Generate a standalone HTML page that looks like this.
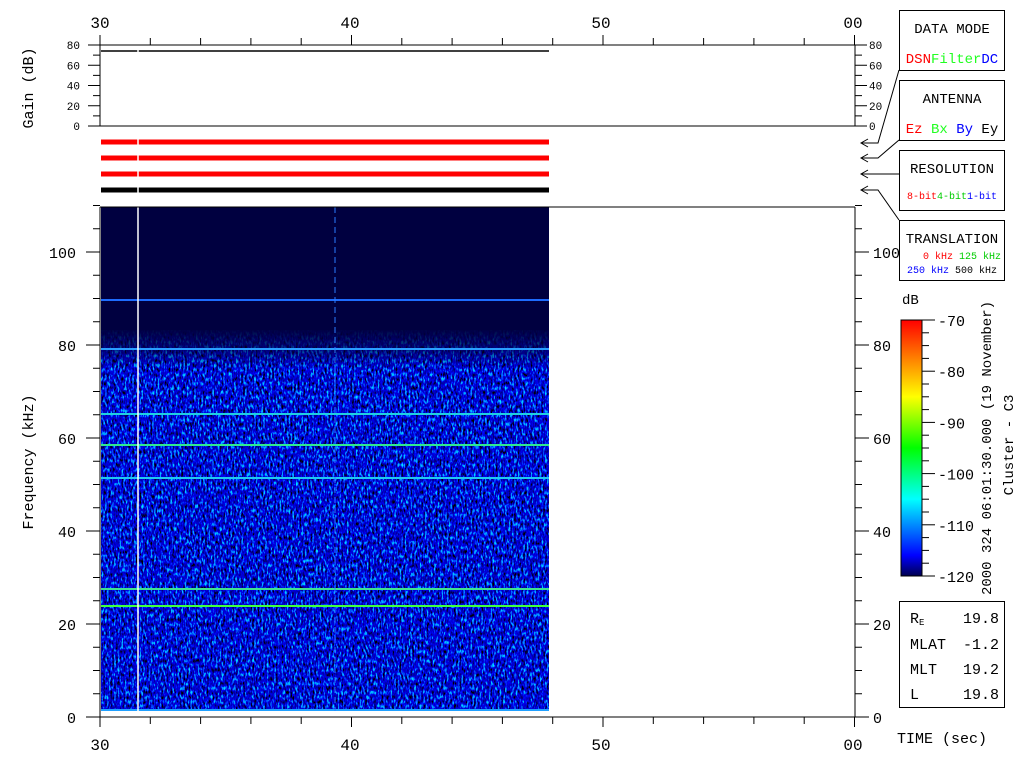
<!DOCTYPE html>
<html><head><meta charset="utf-8"><style>
html,body{margin:0;padding:0;background:#fff;width:1024px;height:768px;overflow:hidden}
svg{display:block}
text{font-family:"Liberation Mono",monospace}
</style></head><body>
<svg id="s" width="1024" height="768" viewBox="0 0 1024 768" xmlns="http://www.w3.org/2000/svg">
<defs>
<filter id="nz" x="0" y="0" width="100%" height="100%">
<feTurbulence type="fractalNoise" baseFrequency="0.55 0.22" numOctaves="2" seed="3" result="t"/>
<feColorMatrix in="t" type="matrix" values="0 0 0 0 0  3.0 0 0 0 -1.75  3.2 0 0 0 -0.9  0 0 0 0 1"/>
</filter>
<linearGradient id="cb" x1="0" y1="1" x2="0" y2="0">
<stop offset="0" stop-color="#000050"/><stop offset="0.08" stop-color="#0000ff"/>
<stop offset="0.3" stop-color="#00ffff"/><stop offset="0.5" stop-color="#00ff00"/>
<stop offset="0.7" stop-color="#ffff00"/><stop offset="0.85" stop-color="#ff8000"/>
<stop offset="1" stop-color="#ff0000"/></linearGradient>
<linearGradient id="fade" x1="0" y1="0" x2="0" y2="1">
<stop offset="0" stop-color="#000040" stop-opacity="1"/><stop offset="0.55" stop-color="#000040" stop-opacity="0.6"/><stop offset="1" stop-color="#000040" stop-opacity="0"/></linearGradient>
</defs>
<rect x="101" y="207" width="448" height="504" fill="#000040"/>
<rect x="101" y="330" width="448" height="381" fill="#000" filter="url(#nz)"/>
<rect x="101" y="328" width="448" height="40" fill="url(#fade)"/>
<g stroke-width="2">
<line x1="101" y1="300" x2="549" y2="300" stroke="#1e6cff"/>
<line x1="101" y1="349" x2="549" y2="349" stroke="#2a9cff"/>
<line x1="101" y1="414" x2="549" y2="414" stroke="#20d0e0"/>
<line x1="101" y1="445" x2="549" y2="445" stroke="#30e890"/>
<line x1="101" y1="478" x2="549" y2="478" stroke="#20c8f0"/>
<line x1="101" y1="589" x2="549" y2="589" stroke="#40e090"/>
<line x1="101" y1="606" x2="549" y2="606" stroke="#40ff40"/>
<line x1="101" y1="710" x2="549" y2="710" stroke="#20a0ff"/>
</g>
<line x1="335" y1="207" x2="335" y2="711" stroke="#2a7cff" stroke-width="1" stroke-dasharray="6,4"/>
<line x1="138" y1="207" x2="138" y2="711" stroke="#fff" stroke-width="1.5"/>
<g fill="none" stroke="#000" stroke-width="1">
<line x1="100" y1="207" x2="855" y2="207"/><line x1="100" y1="207" x2="100" y2="717"/><line x1="855" y1="207" x2="855" y2="717"/><line x1="100" y1="717" x2="855" y2="717"/>
<line x1="100" y1="45" x2="855" y2="45"/><line x1="100" y1="45" x2="100" y2="126"/><line x1="855" y1="45" x2="855" y2="126"/><line x1="100" y1="126" x2="855" y2="126"/>
</g>
<line x1="101" y1="51" x2="549" y2="51" stroke="#000" stroke-width="1.5"/>
<line x1="138" y1="48" x2="138" y2="54" stroke="#fff" stroke-width="1.5"/>
<g stroke-width="5">
<line x1="101" y1="142" x2="549" y2="142" stroke="#f00"/>
<line x1="101" y1="158" x2="549" y2="158" stroke="#f00"/>
<line x1="101" y1="174" x2="549" y2="174" stroke="#f00"/>
<line x1="101" y1="190" x2="549" y2="190" stroke="#000"/>
</g>
<line x1="138" y1="138" x2="138" y2="193" stroke="#fff" stroke-width="1.5"/>
<g id="ticks" stroke="#000" stroke-width="1"></g>
<g id="lbl" font-size="11" fill="#000"></g>
<g font-size="16" fill="#000" text-anchor="middle">
<text x="100" y="28">30</text><text x="350" y="28">40</text><text x="601" y="28">50</text><text x="853" y="28">00</text>
<text x="100" y="750">30</text><text x="350" y="750">40</text><text x="601" y="750">50</text><text x="853" y="750">00</text>
</g>
<g font-size="15" fill="#000" text-anchor="end" id="flbl"></g>
<g font-size="15" fill="#000" text-anchor="start" id="frlbl"></g>
<text transform="translate(33,88) rotate(-90)" font-size="15" text-anchor="middle">Gain (dB)</text>
<text transform="translate(33,462) rotate(-90)" font-size="15" text-anchor="middle">Frequency (kHz)</text>
<g fill="none" stroke="#000">
<rect x="899.5" y="10.5" width="105" height="60"/>
<rect x="899.5" y="80.5" width="105" height="60"/>
<rect x="899.5" y="150.5" width="105" height="60"/>
<rect x="899.5" y="220.5" width="105" height="60"/>
<polyline points="899,70 878,143 862,143"/>
<polyline points="899,140 878,158 862,158"/>
<polyline points="899,174 862,174"/>
<polyline points="899,220 878,190 862,190"/>
<polyline points="868,139 861,143 868,147"/><polyline points="868,154 861,158 868,162"/>
<polyline points="868,170 861,174 868,178"/><polyline points="868,186 861,190 868,194"/>
</g>
<g font-size="14" text-anchor="middle">
<text x="952" y="33">DATA MODE</text>
<text x="952" y="63"><tspan fill="#f00">DSN</tspan><tspan style="fill:#2f2">Filter</tspan><tspan fill="#00f">DC</tspan></text>
<text x="952" y="103">ANTENNA</text>
<text x="952" y="133"><tspan fill="#f00">Ez</tspan> <tspan style="fill:#2f2">Bx</tspan> <tspan fill="#00f">By</tspan> Ey</text>
<text x="952" y="173">RESOLUTION</text>
<text x="952" y="243">TRANSLATION</text>
</g>
<g font-size="10" text-anchor="middle">
<text x="952" y="199"><tspan fill="#f00">8-bit</tspan><tspan style="fill:#0c0">4-bit</tspan><tspan fill="#00f">1-bit</tspan></text>
<text x="962" y="259"><tspan fill="#f00">0 kHz</tspan> <tspan style="fill:#0c0">125 kHz</tspan></text>
<text x="952" y="273"><tspan fill="#00f">250 kHz</tspan> 500 kHz</text>
</g>
<text x="902" y="304" font-size="14">dB</text>
<rect x="901" y="320" width="21" height="256" fill="url(#cb)" stroke="#000"/>
<g id="cbt" stroke="#000"></g>
<g font-size="15" id="cbl"></g>
<text transform="translate(991,448) rotate(-90)" font-size="14" text-anchor="middle">2000 324 06:01:30.000 (19 November)</text>
<text transform="translate(1013,445) rotate(-90)" font-size="14" text-anchor="middle">Cluster - C3</text>
<rect x="899.5" y="601.5" width="105" height="106" fill="none" stroke="#000"/>
<g font-size="15">
<text x="910" y="623">R<tspan font-size="9" dy="2">E</tspan></text><text x="999" y="623" text-anchor="end">19.8</text>
<text x="910" y="649">MLAT</text><text x="999" y="649" text-anchor="end">-1.2</text>
<text x="910" y="674">MLT</text><text x="999" y="674" text-anchor="end">19.2</text>
<text x="910" y="699">L</text><text x="999" y="699" text-anchor="end">19.8</text>
</g>
<text x="897" y="743" font-size="15">TIME (sec)</text>
</svg>
<script>
var NS="http://www.w3.org/2000/svg";
function el(p,t,a,txt){var e=document.createElementNS(NS,t);for(var k in a)e.setAttribute(k,a[k]);if(txt!==undefined)e.textContent=txt;document.getElementById(p).appendChild(e);}
var px=25.15;
for(var s=0;s<=30;s+=2){var x=100+s*px;var maj=(s%10==0);
 el("ticks","line",{x1:x,y1:45,x2:x,y2:maj?35:38});
 el("ticks","line",{x1:x,y1:717,x2:x,y2:maj?727:724});}
for(var g=0;g<=80;g+=10){var y=126-g*1.0125;var maj=g%20==0;
 el("ticks","line",{x1:100,y1:y,x2:maj?88:93,y2:y});
 el("ticks","line",{x1:855,y1:y,x2:maj?867:862,y2:y});
 if(maj){el("lbl","text",{x:80,y:y+4,"text-anchor":"end"},g);el("lbl","text",{x:869,y:y+4},g);}}
for(var f=0;f<=110;f+=5){var y=717-f*4.65;var maj=f%20==0;
 el("ticks","line",{x1:100,y1:y,x2:maj?86:93,y2:y});
 el("ticks","line",{x1:855,y1:y,x2:maj?869:862,y2:y});
 if(maj&&f<=100){el("flbl","text",{x:76,y:y+6},f);el("frlbl","text",{x:873,y:y+6},f);}}
for(var i=0;i<=20;i++){var y=320+i*12.8;el("cbt","line",{x1:922,y1:y,x2:i%4==0?935:929,y2:y});}
for(var i=0;i<=5;i++){el("cbl","text",{x:938,y:326+i*51.2},-70-10*i);}
</script>
</body></html>
